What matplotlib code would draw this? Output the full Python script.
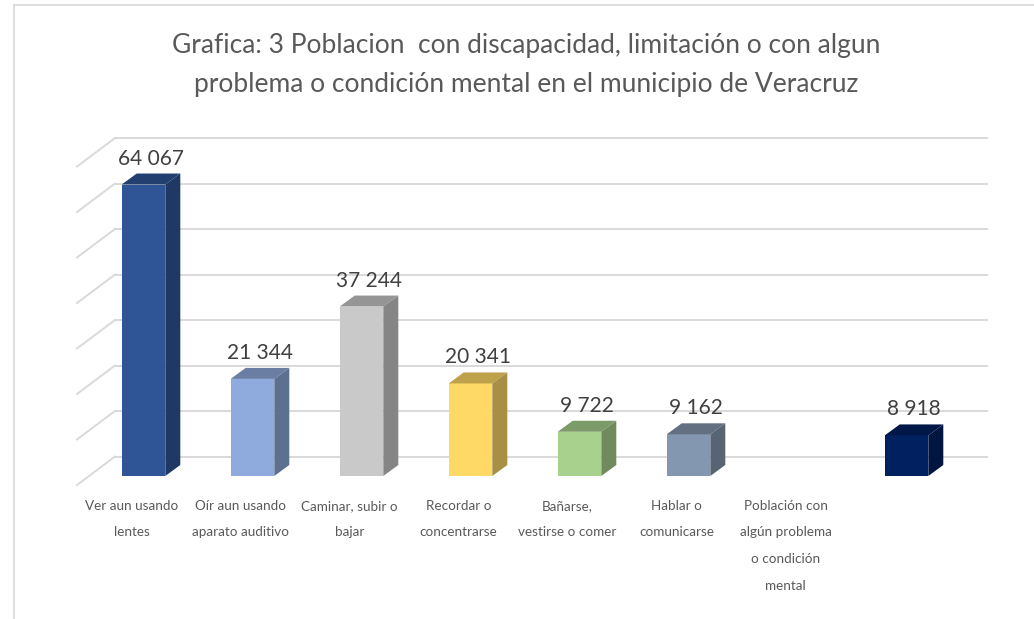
import matplotlib.pyplot as plt
from matplotlib.patches import Polygon
from matplotlib.lines import Line2D
import numpy as np

plt.rcParams['font.family'] = ['Lato', 'DejaVu Sans']

categorias = ["Ver aun usando\nlentes", "Oír aun usando\naparato auditivo",
              "Caminar, subir o\nbajar", "Recordar o\nconcentrarse",
              "Bañarse,\nvestirse o comer", "Hablar o\ncomunicarse",
              "Población con\nalgún problema\no condición\nmental", ""]
valores = [64067, 21344, 37244, 20341, 9722, 9162, np.nan, 8918]
colores = ["#2F5597", "#8FAADC", "#C9C9C9", "#FFD966",
           "#A9D18E", "#8497B0", "#FFFFFF", "#002060"]
titulo = ("Grafica: 3 Poblacion  con discapacidad, limitación o con algun\n"
          "problema o condición mental en el municipio de Veracruz")
y_ticks = np.arange(0, 70001, 10000)

W, H = 1034, 619
fig = plt.figure(figsize=(W / 100, H / 100), dpi=100)

# pixel geometry of the plot region
L, R, T, B = 70, 1000, 120, 500
x0_px, step_px, zero_px = 143.5, 109.0, 476.0
u = 219.8  # value units per pixel
ax = fig.add_axes([L / W, 1 - B / H, (R - L) / W, (B - T) / H])
ax.set_xlim((L - x0_px) / step_px, (R - x0_px) / step_px)
ax.set_ylim(-(B - zero_px) * u, (zero_px - T) * u)
ax.axis("off")

# floor / wall depth
fdx_front, fdx_back = (77 - x0_px) / step_px, (115 - x0_px) / step_px
fy_front, fy_back = -9 * u, 19.5 * u
x_right = (987 - x0_px) / step_px
for v in y_ticks:
    ax.plot([fdx_back, x_right], [v + fy_back, v + fy_back], color="#D9D9D9", lw=1.4, zorder=1)
    ax.plot([fdx_front, fdx_back], [v + fy_front, v + fy_back], color="#D9D9D9", lw=1.4, zorder=1)

def shade(c, f):
    c = np.array(plt.matplotlib.colors.to_rgb(c))
    return tuple(c * f)

w = 0.40
bdx, bdy = 15 / step_px, 11 * u
for i, v in enumerate(valores):
    if np.isnan(v):
        continue
    c = colores[i]
    ax.bar(i, v, width=w, color=c, zorder=3, linewidth=0)
    xl, xr = i - w / 2, i + w / 2
    top = Polygon([(xl, v), (xr, v), (xr + bdx, v + bdy), (xl + bdx, v + bdy)],
                  closed=True, facecolor=shade(c, 0.74), edgecolor="none", zorder=3)
    side = Polygon([(xr, 0), (xr + bdx, bdy), (xr + bdx, v + bdy), (xr, v)],
                   closed=True, facecolor=shade(c, 0.66), edgecolor="none", zorder=3)
    ax.add_patch(top)
    ax.add_patch(side)
    etiqueta = f"{int(v):,}".replace(",", " ")
    ax.text(i + bdx / 2, v + bdy + 5 * u, etiqueta, ha="center", va="bottom",
            fontsize=15, color="#404040", zorder=4)

for i, cat in enumerate(categorias):
    ax.text(i - 0.11, -(500 - zero_px) * u, cat, ha="center", va="top",
            fontsize=9.7, color="#595959", linespacing=2.45, clip_on=False)

fig.text(526 / W, 1 - 33 / H, titulo, ha="center", va="top", fontsize=19,
         color="#595959", linespacing=1.72)

# chart border (left and top edges visible)
fig.add_artist(Line2D([13.5 / W, 13.5 / W], [0, 1 - 5 / H], transform=fig.transFigure,
                      color="#D9D9D9", lw=1.2))
fig.add_artist(Line2D([13.5 / W, 1], [1 - 5 / H, 1 - 5 / H], transform=fig.transFigure,
                      color="#D9D9D9", lw=1.2))

fig.savefig("out.png", dpi=100)
